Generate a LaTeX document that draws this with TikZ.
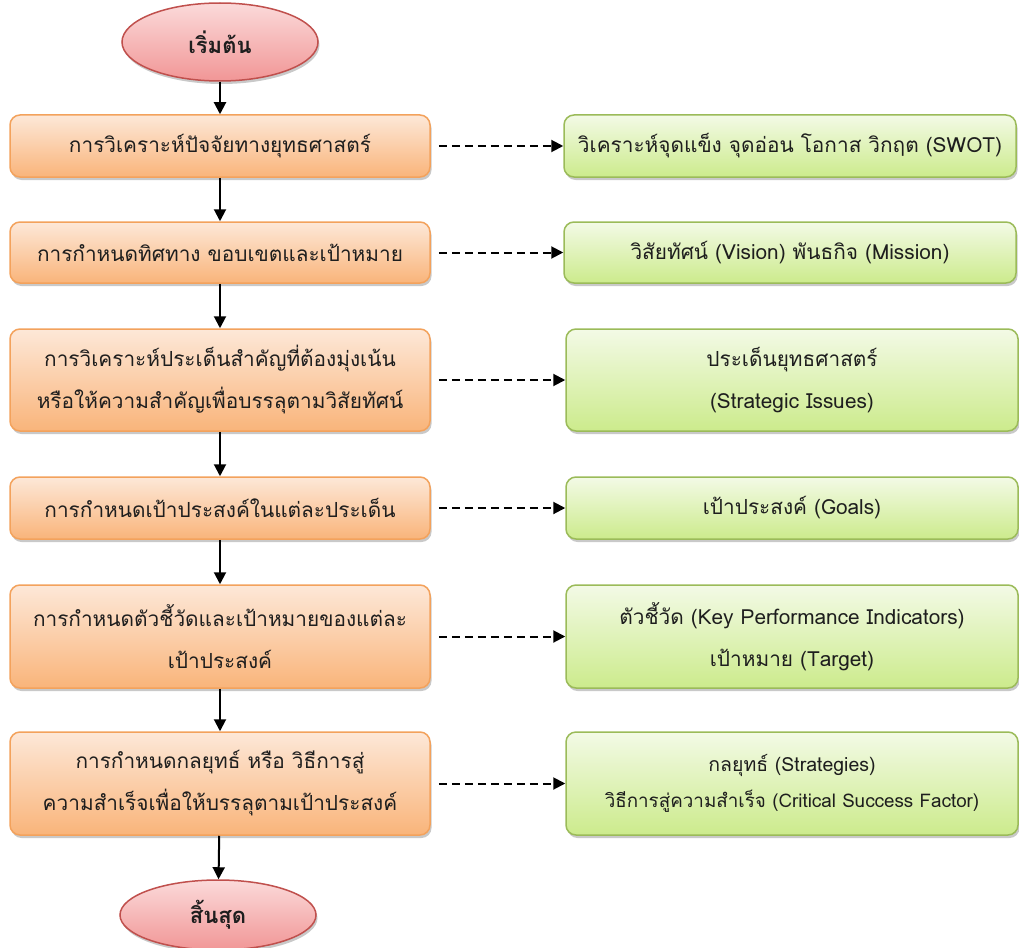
\documentclass[tikz,border=0pt]{standalone}
\usepackage{fontspec}
\setmainfont[Script=Thai]{Loma}
\usetikzlibrary{arrows.meta,shapes.geometric,shadows}
\definecolor{orTop}{RGB}{253,232,216}
\definecolor{orBot}{RGB}{249,180,122}
\definecolor{orLine}{RGB}{243,162,92}
\definecolor{grTop}{RGB}{243,250,230}
\definecolor{grBot}{RGB}{204,235,140}
\definecolor{grLine}{RGB}{155,187,89}
\definecolor{pkTop}{RGB}{251,218,218}
\definecolor{pkBot}{RGB}{241,150,150}
\definecolor{pkLine}{RGB}{192,80,77}
\definecolor{txt}{RGB}{30,30,30}
\tikzset{
  shadowed/.style={drop shadow={shadow xshift=1.5pt,shadow yshift=-3pt,opacity=0.3,fill=black!70}},
  orbox/.style={rectangle,rounded corners=10pt,draw=orLine,line width=1.5pt,
    top color=orTop,bottom color=orBot,shadowed,minimum width=420pt,
    align=center,text=txt,font=\fontsize{20.8}{42}\selectfont,inner sep=0pt},
  grbox/.style={rectangle,rounded corners=10pt,draw=grLine,line width=1.5pt,
    top color=grTop,bottom color=grBot,shadowed,minimum width=452pt,
    align=center,text=txt,font=\fontsize{20.8}{42}\selectfont,inner sep=0pt},
  terminal/.style={ellipse,draw=pkLine,line width=1.5pt,top color=pkTop,bottom color=pkBot,
    shadowed,minimum width=196pt,text=txt,font=\fontsize{22}{26}\selectfont\bfseries,inner sep=0pt},
  flow/.style={line width=2pt,-{Triangle[width=12pt,length=12pt]}},
  link/.style={line width=2pt,dash pattern=on 8pt off 5pt,-{Triangle[width=12pt,length=12pt]}}
}
\begin{document}
\begin{tikzpicture}[x=1pt,y=-1pt]
\useasboundingbox (0,0) rectangle (1019,947);
\node[terminal,minimum height=78pt] (start) at (220,42) {เริ่มต้น};
\node[orbox,minimum height=62pt] (a1) at (220,146) {การวิเคราะห์ปัจจัยทางยุทธศาสตร์};
\node[orbox,minimum height=61pt] (a2) at (220,252.5) {การกำหนดทิศทาง ขอบเขตและเป้าหมาย};
\node[orbox,minimum height=102pt] (a3) at (220,380) {การวิเคราะห์ประเด็นสำคัญที่ต้องมุ่งเน้น\\หรือให้ความสำคัญเพื่อบรรลุตามวิสัยทัศน์};
\node[orbox,minimum height=62pt] (a4) at (220,508) {การกำหนดเป้าประสงค์ในแต่ละประเด็น};
\node[orbox,minimum height=103pt] (a5) at (220,636.5) {การกำหนดตัวชี้วัดและเป้าหมายของแต่ละ\\เป้าประสงค์};
\node[orbox,minimum height=103pt] (a6) at (220,783.5) {การกำหนดกลยุทธ์ หรือ วิธีการสู่\\ความสำเร็จเพื่อให้บรรลุตามเป้าประสงค์};
\node[terminal,minimum height=70pt] (end) at (218,915) {สิ้นสุด};

\node[grbox,minimum height=62pt] (b1) at (790,146) {วิเคราะห์จุดแข็ง จุดอ่อน โอกาส วิกฤต (SWOT)};
\node[grbox,minimum height=61pt] (b2) at (790,252.5) {วิสัยทัศน์ (Vision) พันธกิจ (Mission)};
\node[grbox,minimum height=102pt] (b3) at (792,380) {ประเด็นยุทธศาสตร์\\(Strategic Issues)};
\node[grbox,minimum height=62pt] (b4) at (792,508) {เป้าประสงค์ (Goals)};
\node[grbox,minimum height=103pt] (b5) at (792,636.5) {ตัวชี้วัด (Key Performance Indicators)\\เป้าหมาย (Target)};
\node[grbox,minimum height=103pt,font=\fontsize{19.5}{36}\selectfont] (b6) at (792,783.5) {กลยุทธ์ (Strategies)\\{\fontsize{18.8}{36}\selectfont วิธีการสู่ความสำเร็จ (Critical Success Factor)}};

\draw[flow] (start) -- (a1);
\draw[flow] (a1) -- (a2);
\draw[flow] (a2) -- (a3);
\draw[flow] (a3) -- (a4);
\draw[flow] (a4) -- (a5);
\draw[flow] (a5) -- (a6);
\draw[flow] (a6) -- (end);

\draw[link] (a1.east) ++(8,0) -- (b1.west);
\draw[link] (a2.east) ++(8,0) -- (b2.west);
\draw[link] (a3.east) ++(8,0) -- (b3.west);
\draw[link] (a4.east) ++(8,0) -- (b4.west);
\draw[link] (a5.east) ++(8,0) -- (b5.west);
\draw[link] (a6.east) ++(8,0) -- (b6.west);
\end{tikzpicture}
\end{document}
